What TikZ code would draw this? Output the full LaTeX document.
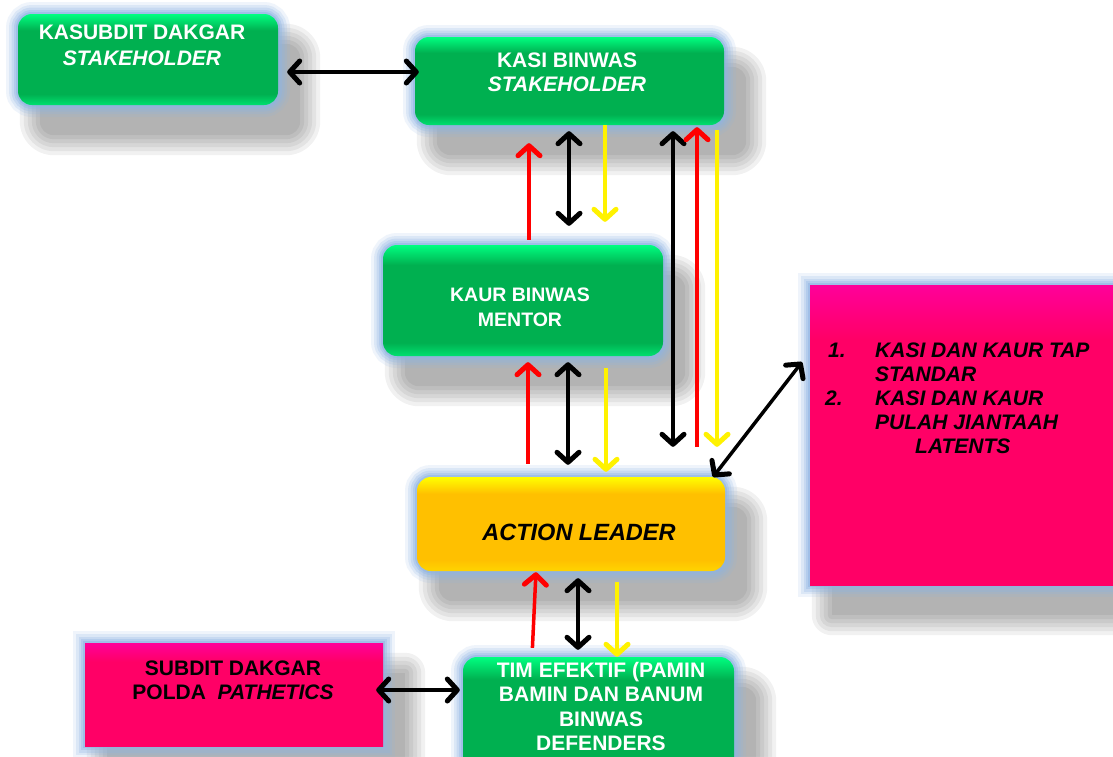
\documentclass[tikz,border=0pt]{standalone}
\usepackage{fontspec}
\setmainfont{Liberation Sans}
\usetikzlibrary{arrows.meta,calc}
\definecolor{gtop}{HTML}{00FF80}
\definecolor{gmid}{HTML}{00B050}
\definecolor{gbot}{HTML}{00E070}
\definecolor{ytop}{HTML}{FFFF00}
\definecolor{ymid}{HTML}{FFC000}
\definecolor{ybot}{HTML}{FFD400}
\definecolor{mtop}{HTML}{FF009A}
\definecolor{mmid}{HTML}{FF0066}
\definecolor{glowc}{HTML}{8EB4E3}
\pgfdeclareverticalshading{greensh}{100bp}{color(0bp)=(gbot); color(25bp)=(gbot); color(31bp)=(gmid); color(66bp)=(gmid); color(75bp)=(gtop); color(100bp)=(gtop)}
\pgfdeclareverticalshading{yellowsh}{100bp}{color(0bp)=(ybot); color(25bp)=(ybot); color(31bp)=(ymid); color(66bp)=(ymid); color(75bp)=(ytop); color(100bp)=(ytop)}
\pgfdeclareverticalshading{magsh}{100bp}{color(0bp)=(mmid); color(25bp)=(mmid); color(66bp)=(mmid); color(75bp)=(mtop); color(100bp)=(mtop)}
\pgfdeclarelayer{backdrop}
\pgfdeclarelayer{shadowlayer}
\pgfsetlayers{backdrop,shadowlayer,main}
\newcommand{\softshadow}[2]{%
  \foreach \d in {0,4,8,12,16,20}{%
    \pgfmathsetmacro{\rr}{#2+\d}%
    \fill[black,opacity=0.055,rounded corners=\rr pt]
      ($(#1.north west)+(22-\d,30-\d)$) rectangle ($(#1.south east)+(22+\d,30+\d)$);}}
\tikzset{
  boxglow/.style={preaction={draw=glowc,line width=24pt,opacity=0.14},
                  preaction={draw=glowc,line width=18pt,opacity=0.2},
                  preaction={draw=glowc,line width=13pt,opacity=0.26},
                  preaction={draw=glowc,line width=8pt,opacity=0.35},
                  preaction={draw=glowc,line width=4pt,opacity=0.5}},
  gbox/.style={boxglow,rounded corners=14pt,shading=greensh,inner sep=0pt},
  ybox/.style={boxglow,rounded corners=14pt,shading=yellowsh,inner sep=0pt},
  mbox/.style={boxglow,shading=magsh,inner sep=0pt},
  wtxt/.style={text=white,font=\fontsize{21}{24}\selectfont\bfseries,align=center,inner sep=0pt},
  btxt/.style={text=black,font=\fontsize{21}{24}\selectfont\bfseries,align=center,inner sep=0pt},
  tipbarb/.tip={Straight Barb[length=10pt,width=22pt,line width=5pt,round]},
  blkarr/.style={draw=black,line width=3.5pt,tipbarb-tipbarb},
  redarr/.style={draw=red,line width=3.5pt,-tipbarb},
  yelarr/.style={draw=yellow,line width=3.5pt,-tipbarb},
}
\begin{document}
\begin{tikzpicture}[x=1pt,y=-1pt]
\useasboundingbox (0,0) rectangle (1113,756);
\begin{pgfonlayer}{backdrop}
\fill[white] (0,0) rectangle (1113,756);
\end{pgfonlayer}

% boxes
\node[gbox,minimum width=260pt,minimum height=91pt] (kasubdit) at (148,59.5) {};
\node[gbox,minimum width=309pt,minimum height=88pt] (kasi) at (569.5,81) {};
\node[gbox,minimum width=280pt,minimum height=111pt] (kaur) at (523,300.5) {};
\node[ybox,minimum width=308pt,minimum height=94pt] (action) at (571,524) {};
\node[mbox,minimum width=298pt,minimum height=103pt] (subdit) at (234,694.5) {};
\node[gbox,minimum width=271pt,minimum height=125pt] (tim) at (598.5,719.5) {};
\node[mbox,minimum width=320pt,minimum height=300pt] (list) at (970,435) {};

% soft drop shadows behind the boxes
\begin{pgfonlayer}{shadowlayer}
\softshadow{kasubdit}{14}
\softshadow{kasi}{14}
\softshadow{kaur}{14}
\softshadow{action}{14}
\softshadow{subdit}{0}
\softshadow{tim}{14}
\softshadow{list}{0}
\end{pgfonlayer}

% texts
\node[wtxt,font=\fontsize{21}{26}\selectfont\bfseries] (kasubdit-t) at (142,45) {KASUBDIT DAKGAR\\\textit{STAKEHOLDER}};
\node[wtxt] (kasi-t) at (567,72) {KASI BINWAS\\\textit{STAKEHOLDER}};
\node[wtxt,font=\fontsize{19.5}{25}\selectfont\bfseries] (kaur-t) at (520,307.5) {KAUR BINWAS\\MENTOR};
\node[btxt,font=\fontsize{23.5}{26}\selectfont\bfseries\itshape] (action-t) at (579,532) {ACTION LEADER};
\node[wtxt,font=\fontsize{21}{24.3}\selectfont\bfseries] (tim-t) at (601,706.5) {TIM EFEKTIF (PAMIN\\BAMIN DAN BANUM\\BINWAS\\DEFENDERS};
\node[btxt] (subdit-t) at (233,680) {SUBDIT DAKGAR\\POLDA\ \ \textit{PATHETICS}};
\node[btxt,font=\fontsize{21}{24}\selectfont\bfseries\itshape,anchor=base west] (list-t) at (828,357.5)
  {\begin{tabular}[t]{@{}p{47pt}@{}l@{}}1. & KASI DAN KAUR TAP\\ & STANDAR\\\hspace{-3pt}2. & KASI DAN KAUR\\ & PULAH JIANTAAH\\ & \hspace{40pt}LATENTS\end{tabular}};

% helper coordinates
\coordinate (c72) at (0,72);
\coordinate (c690) at (0,690);
\foreach \xx in {528,529,532,536,568,569,578,605,606,617,673,697,717}{\coordinate (c\xx) at (\xx,0);}
\coordinate (dtail) at (713,477);
\coordinate (dtip) at (802,362);

% connectors
\draw[blkarr,shorten <=9pt,shorten >=-4pt] (kasubdit.east |- c72) -- (kasi.west |- c72);
\draw[redarr,shorten <=5pt,shorten >=18pt] (kaur.north -| c529) -- (kasi.south -| c529);
\draw[blkarr,shorten <=6pt,shorten >=19pt] (kasi.south -| c569) -- (kaur.north -| c569);
\draw[yelarr,shorten >=23pt] (kasi.south -| c605) -- (kaur.north -| c605);
\draw[blkarr,shorten <=6pt,shorten >=30pt] (kasi.south -| c673) -- (action.north -| c673);
\draw[redarr,shorten <=30pt,shorten >=2pt] (action.north -| c697) -- (kasi.south -| c697);
\draw[yelarr,shorten <=5pt,shorten >=30pt] (kasi.south -| c717) -- (action.north -| c717);
\draw[redarr,shorten <=13pt,shorten >=6pt] (action.north -| c528) -- (kaur.south -| c528);
\draw[blkarr,shorten <=6pt,shorten >=12pt] (kaur.south -| c568) -- (action.north -| c568);
\draw[yelarr,shorten <=12pt,shorten >=5pt] (kaur.south -| c606) -- (action.north -| c606);
\draw[blkarr] (dtail) -- (dtip);
\draw[redarr,shorten <=9pt,shorten >=1pt] (tim.north -| c532) -- (action.south -| c536);
\draw[blkarr,shorten <=7pt,shorten >=7pt] (action.south -| c578) -- (tim.north -| c578);
\draw[yelarr,shorten <=11pt] (action.south -| c617) -- (tim.north -| c617);
\draw[blkarr,shorten <=-7pt,shorten >=3pt] (subdit.east |- c690) -- (tim.west |- c690);
\end{tikzpicture}
\end{document}
